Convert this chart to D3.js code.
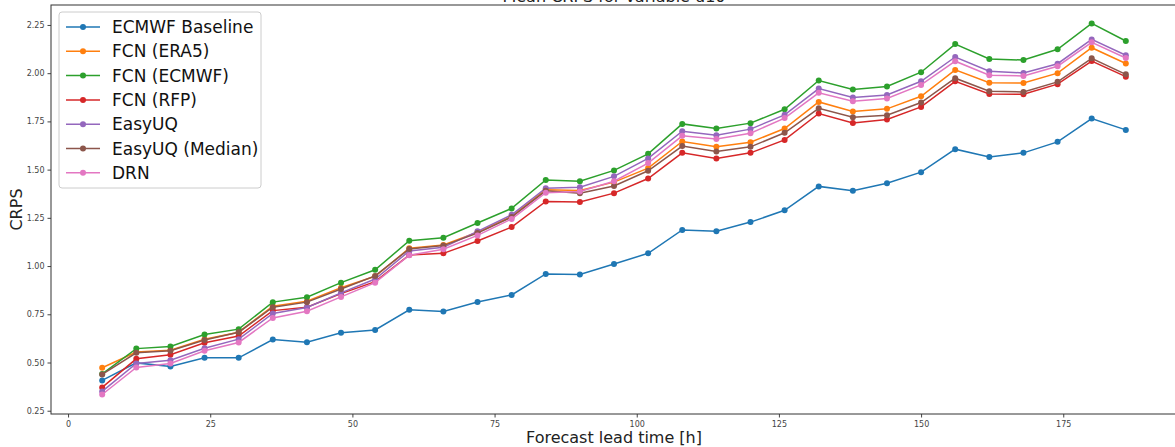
<!DOCTYPE html>
<html><head><meta charset="utf-8">
<script src="https://cdn.jsdelivr.net/npm/d3@7"></script>
<style>body{margin:0;background:#fff;} svg{display:block;font-family:"DejaVu Sans",sans-serif;}</style>
</head><body><svg id="c" width="1175" height="447"></svg>
<script>
const leadTimes = [6,12,18,24,30,36,42,48,54,60,66,72,78,84,90,96,102,108,114,120,126,132,138,144,150,156,162,168,174,180,186];
const seriesNames = ["ECMWF Baseline","FCN (ERA5)","FCN (ECMWF)","FCN (RFP)","EasyUQ","EasyUQ (Median)","DRN"];
const ecmwfBaseline = [0.407,0.498,0.479,0.524,0.524,0.619,0.605,0.654,0.669,0.773,0.764,0.814,0.850,0.959,0.956,1.011,1.066,1.187,1.180,1.228,1.289,1.413,1.390,1.429,1.487,1.606,1.566,1.587,1.644,1.765,1.706];
const fcnEra5 = [0.473,0.554,0.564,0.621,0.657,0.792,0.818,0.888,0.947,1.092,1.109,1.175,1.258,1.395,1.392,1.435,1.508,1.646,1.618,1.642,1.713,1.851,1.801,1.815,1.880,2.017,1.951,1.949,2.000,2.132,2.050];
const fcnEcmwf = [0.441,0.572,0.583,0.645,0.673,0.813,0.838,0.914,0.981,1.131,1.147,1.223,1.299,1.446,1.440,1.496,1.582,1.737,1.713,1.741,1.813,1.962,1.915,1.931,2.005,2.151,2.074,2.068,2.124,2.258,2.167];
const fcnRfp = [0.371,0.519,0.540,0.602,0.637,0.769,0.787,0.857,0.919,1.057,1.066,1.130,1.202,1.335,1.332,1.378,1.454,1.587,1.558,1.587,1.654,1.791,1.742,1.760,1.825,1.958,1.892,1.891,1.943,2.063,1.982];
const easyUQ = [0.350,0.495,0.512,0.574,0.621,0.754,0.785,0.861,0.933,1.078,1.097,1.180,1.266,1.404,1.409,1.465,1.558,1.699,1.678,1.710,1.784,1.920,1.874,1.887,1.958,2.084,2.010,2.001,2.049,2.175,2.093];
const easyUQMedian = [0.438,0.550,0.561,0.617,0.657,0.787,0.813,0.881,0.949,1.089,1.106,1.171,1.254,1.390,1.378,1.415,1.494,1.622,1.594,1.618,1.691,1.818,1.772,1.782,1.848,1.974,1.906,1.903,1.955,2.077,1.994];
const drn = [0.334,0.474,0.495,0.561,0.604,0.731,0.766,0.840,0.914,1.056,1.087,1.159,1.244,1.380,1.387,1.440,1.534,1.675,1.659,1.689,1.767,1.898,1.855,1.869,1.939,2.062,1.989,1.986,2.036,2.160,2.079];
const xTicks = [0,25,50,75,100,125,150,175];
const yTicks = [0.25,0.50,0.75,1.00,1.25,1.50,1.75,2.00,2.25];
const seriesValues = [ecmwfBaseline,fcnEra5,fcnEcmwf,fcnRfp,easyUQ,easyUQMedian,drn];
const colors = ["#1f77b4","#ff7f0e","#2ca02c","#d62728","#9467bd","#8c564b","#e377c2"];

const svg = d3.select("#c");
const L = 51, R = 1177, T = 5, B = 414;
const x = d3.scaleLinear().domain([-3,195]).range([L,R]);
const y = d3.scaleLinear().domain([0.233,2.3535]).range([B,T]);

// title (partially cut off at top)
svg.append("text").attr("x",(L+R)/2).attr("y",2).attr("text-anchor","middle")
  .attr("font-size",16).attr("fill","#222").text("Mean CRPS for variable u10");

const gx = svg.append("g").attr("transform",`translate(0,${B})`)
  .call(d3.axisBottom(x).tickValues(xTicks).tickFormat(d3.format("d")).tickSize(3.5).tickPadding(4));
const gy = svg.append("g").attr("transform",`translate(${L},0)`)
  .call(d3.axisLeft(y).tickValues(yTicks).tickFormat(d3.format(".2f")).tickSize(3.5).tickPadding(3));
[gx,gy].forEach(g=>{
  g.select(".domain").remove();
  g.selectAll(".tick line").attr("stroke","#444");
  g.selectAll(".tick text").attr("font-size",8).attr("fill","#444").attr("font-family","DejaVu Sans");
});
// frame
svg.append("rect").attr("x",L).attr("y",T).attr("width",R-L).attr("height",B-T)
  .attr("fill","none").attr("stroke","#333").attr("stroke-width",1);

svg.append("text").attr("x",(L+R)/2).attr("y",443).attr("text-anchor","middle")
  .attr("font-size",16).attr("fill","#222").text("Forecast lead time [h]");
svg.append("text").attr("transform",`translate(22,${(T+B)/2}) rotate(-90)`).attr("text-anchor","middle")
  .attr("font-size",16).attr("fill","#222").text("CRPS");

const line = d3.line().x((d,i)=>x(leadTimes[i])).y(d=>y(d));
const plot = svg.append("g");
seriesValues.forEach((vals,k)=>{
  plot.append("path").datum(vals).attr("d",line).attr("fill","none")
    .attr("stroke",colors[k]).attr("stroke-width",1.5);
  plot.selectAll(null).data(vals).enter().append("circle")
    .attr("cx",(d,i)=>x(leadTimes[i])).attr("cy",d=>y(d)).attr("r",3).attr("fill",colors[k]);
});

// legend
const lg = svg.append("g");
lg.append("rect").attr("x",59).attr("y",12).attr("width",202).attr("height",176).attr("rx",3)
  .attr("fill","#fff").attr("fill-opacity",0.8).attr("stroke","#ccc");
seriesNames.forEach((n,k)=>{
  const yy = 27 + k*24.3;
  lg.append("line").attr("x1",66).attr("x2",100).attr("y1",yy).attr("y2",yy)
    .attr("stroke",colors[k]).attr("stroke-width",1.5);
  lg.append("circle").attr("cx",83).attr("cy",yy).attr("r",3).attr("fill",colors[k]);
  lg.append("text").attr("x",112).attr("y",yy+6).attr("font-size",17).attr("fill","#111").text(n);
});
</script></body></html>
